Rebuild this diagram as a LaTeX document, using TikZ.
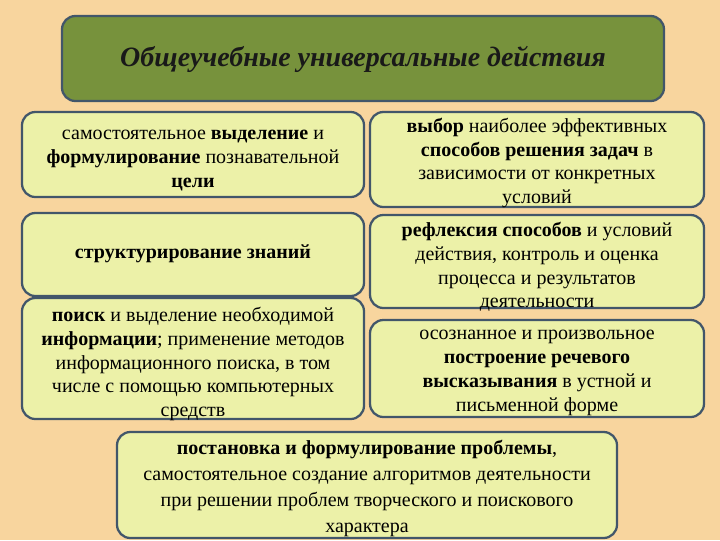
\documentclass[tikz,border=0pt]{standalone}
\usepackage{fontspec}
\setmainfont{Liberation Serif}
\definecolor{bgpeach}{RGB}{248,213,158}
\definecolor{boxfill}{RGB}{236,241,168}
\definecolor{titlefill}{RGB}{119,146,60}
\definecolor{edgecol}{RGB}{66,86,106}
\tikzset{
  boxshape/.style={draw=edgecol, line width=1.7pt, rounded corners=10pt, fill=boxfill, inner sep=0pt},
  titleshape/.style={draw=edgecol, line width=1.7pt, rounded corners=10pt, fill=titlefill, inner sep=0pt},
  txt/.style={align=center, inner sep=0pt, font=\fontsize{15}{17.7}\selectfont},
}
\newcommand{\boxat}[5]{% name, x1,y1,x2,y2
  \path[boxshape] (#2,#3) rectangle (#4,#5);
  \coordinate (#1) at ({(#2+#4)/2},{(#3+#5)/2});
}
\begin{document}
\begin{tikzpicture}[x=0.75pt,y=-0.75pt]
\useasboundingbox (0,0) rectangle (720,540);
\fill[bgpeach] (0,0) rectangle (720,540);
% title
\path[titleshape] (62,16) rectangle (664,101);
\node[inner sep=0pt, font=\fontsize{21}{23}\selectfont\bfseries\itshape, text=black!90] (title) at (363,59) {Общеучебные универсальные действия};
% boxes
\boxat{L1}{22}{112}{364}{197}
\boxat{L2}{22}{213}{364}{296}
\boxat{L3}{22}{298}{364}{419}
\boxat{R1}{370}{112}{704}{207}
\boxat{R2}{370}{215}{704}{308}
\boxat{R3}{370}{320}{704}{417}
\boxat{B}{117}{432}{617}{538}
% texts
\node[txt, font=\fontsize{15}{18}\selectfont] (tL1) at (193,160.5) {самостоятельное \textbf{выделение} и\\\textbf{формулирование} познавательной\\\textbf{цели}};
\node[txt] (tL2) at (193,254) {\textbf{структурирование знаний}};
\node[txt] (tL3) at (193,364) {\textbf{поиск} и выделение необходимой\\\textbf{информации}; применение методов\\информационного поиска, в том\\числе с помощью компьютерных\\средств};
\node[txt] (tR1) at (537,163) {\textbf{выбор} наиболее эффективных\\\textbf{способов решения задач} в\\зависимости от конкретных\\условий};
\node[txt] (tR2) at (537,267) {\textbf{рефлексия способов} и условий\\действия, контроль и оценка\\процесса и результатов\\деятельности};
\node[txt, font=\fontsize{15}{18}\selectfont] (tR3) at (537,372.5) {осознанное и произвольное\\\textbf{построение речевого}\\\textbf{высказывания} в устной и\\письменной форме};
\node[txt, font=\fontsize{15}{19.5}\selectfont] (tB) at (367,488.5) {\textbf{постановка и формулирование проблемы},\\самостоятельное создание алгоритмов деятельности\\при решении проблем творческого и поискового\\характера};
\end{tikzpicture}
\end{document}
